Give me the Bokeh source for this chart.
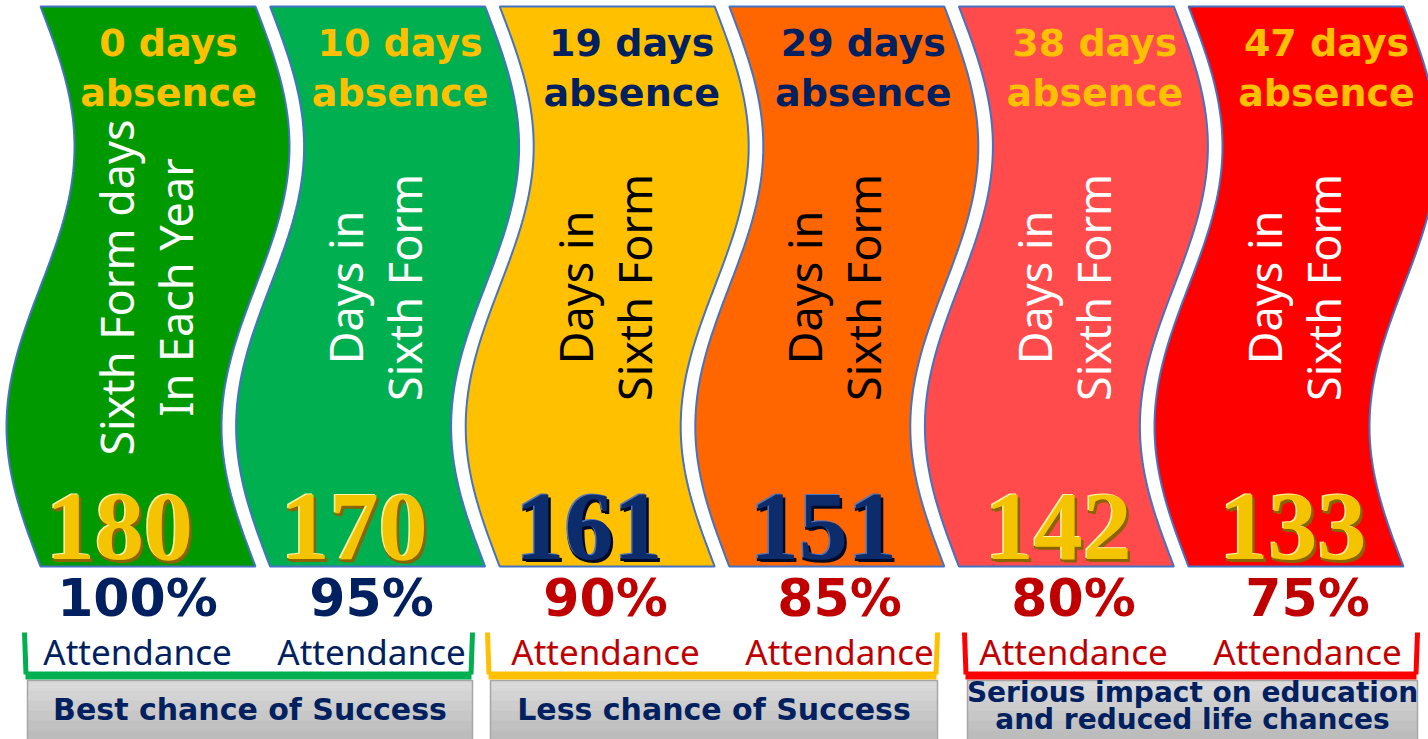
import numpy as np
from bokeh.plotting import figure
from bokeh.models import ColumnDataSource, Range1d
from bokeh.core.properties import value
from bokeh.embed import file_html
from bokeh.resources import INLINE

# ---------------- data ----------------
absence_days = [0, 10, 19, 29, 38, 47]
days_in_sixth_form = [180, 170, 161, 151, 142, 133]
attendance_pct = [100, 95, 90, 85, 80, 75]
vertical_line1 = ["Sixth Form days", "Days in", "Days in", "Days in", "Days in", "Days in"]
vertical_line2 = ["In Each Year", "Sixth Form", "Sixth Form", "Sixth Form", "Sixth Form", "Sixth Form"]
group_labels = [["Best chance of Success"],
                ["Less chance of Success"],
                ["Serious impact on education", "and reduced life chances"]]

# ---------------- styles ----------------
banner_colors = ["#009900", "#00B050", "#FFC000", "#FF6600", "#FF4B4B", "#FF0000"]
header_colors = ["#FFC000", "#FFC000", "#002060", "#002060", "#FFC000", "#FFC000"]
vertical_colors = ["#FFFFFF", "#FFFFFF", "#000000", "#000000", "#FFFFFF", "#FFFFFF"]
number_kind = ["gold", "gold", "navy", "navy", "gold", "gold"]
pct_colors = ["#002060", "#002060", "#C00000", "#C00000", "#C00000", "#C00000"]
group_colors = ["#00B050", "#FFC000", "#FF0000"]
NAVY = "#002060"

number_palette = {
    "gold": {"shadow": "#8A6400", "light": "#FFF4A8", "main": "#F4C400"},
    "navy": {"shadow": "#000A26", "light": "#5577BB", "main": "#0D2C6C"},
}

# ---------------- layout (reference pixel space) ----------------
W, H = 1428, 739
TOP, BOT, AMP = 6.0, 566.0, 34.0
X0, PITCH, BW = 40.0, 229.6, 215.0
HDR_X0, HDR_PITCH = 168.0, 231.6
NUM_X0, NUM_PITCH = 119.0, 234.7
PCT_X0, PCT_PITCH = 137.0, 234.0
GROUP_L = [24, 487, 964]
GROUP_R = [472, 937, 1417]
SHIFT = 0.4  # baseline correction (fraction of font size)


def base(y, fs, k=SHIFT):
    return [float(v) - k * fs for v in y]


def fl(a):
    return [float(v) for v in a]


p = figure(width=W, height=H, x_range=Range1d(0, W), y_range=Range1d(H, 0),
           output_backend="svg", toolbar_location=None,
           x_axis_location=None, y_axis_location=None, min_border=0)
p.grid.visible = False
p.outline_line_color = None
p.background_fill_color = "white"
p.border_fill_color = "white"

n = len(absence_days)
idx = list(range(n))

# ---------------- wavy banners ----------------
ys = np.linspace(TOP, BOT, 120)
off = AMP * np.sin(2 * np.pi * (ys - TOP) / (BOT - TOP))
bxs, bys = [], []
for i in idx:
    left = X0 + i * PITCH + off
    right = left + BW
    bxs.append(fl(np.concatenate([left, right[::-1]])))
    bys.append(fl(np.concatenate([ys, ys[::-1]])))
p.patches(xs="xs", ys="ys", fill_color="color", line_color="#4472C4", line_width=2,
          source=ColumnDataSource(dict(xs=bxs, ys=bys, color=banner_colors)))

bc = [X0 + i * PITCH + BW / 2 for i in idx]  # banner centre column

# ---------------- headers ----------------
hdr_x = [HDR_X0 + i * HDR_PITCH for i in idx]
HF = 38
p.text(x=hdr_x, y=base([58] * n, HF), text=[f"{d} days" for d in absence_days],
       text_color=header_colors, text_font=value("DejaVu Sans"), text_font_style="bold",
       text_font_size=f"{HF}px", text_align="center", text_baseline="alphabetic")
p.text(x=hdr_x, y=base([108] * n, HF), text=["absence"] * n,
       text_color=header_colors, text_font=value("DejaVu Sans"), text_font_style="bold",
       text_font_size=f"{HF}px", text_align="center", text_baseline="alphabetic")

# ---------------- vertical texts ----------------
VF = 45
for dxl, txt in ((-13, vertical_line1), (46, vertical_line2)):
    p.text(x=base([c + dxl for c in bc], VF, 0.42), y=[287.0] * n, text=txt, angle=np.pi / 2,
           text_color=vertical_colors, text_font=value("Noto Sans"),
           text_font_size=f"{VF}px", text_align="center", text_baseline="alphabetic")

# ---------------- big numbers ----------------
NF = 98
num_x = [NUM_X0 + i * NUM_PITCH for i in idx]
for layer, dx, dy in (("shadow", 2.5, 2.5), ("shadow", -1.0, 1.5), ("light", -1.5, -1.5), ("main", 0.0, 0.0)):
    cols = [number_palette[k][layer] for k in number_kind]
    p.text(x=[c + dx for c in num_x], y=base([562 + dy] * n, NF, 0.36),
           text=[str(v) for v in days_in_sixth_form],
           text_color=cols, text_font=value("Liberation Serif"), text_font_style="bold",
           text_font_size=f"{NF}px", text_align="center", text_baseline="alphabetic")

# ---------------- percentages ----------------
pct_x = [PCT_X0 + i * PCT_PITCH for i in idx]
PF, AF = 52, 35
p.text(x=pct_x, y=base([618] * n, PF), text=[f"{v}%" for v in attendance_pct],
       text_color=pct_colors, text_font=value("DejaVu Sans"), text_font_style="bold",
       text_font_size=f"{PF}px", text_align="center", text_baseline="alphabetic")
p.text(x=pct_x, y=base([665] * n, AF), text=["Attendance"] * n,
       text_color=pct_colors, text_font=value("Noto Sans"),
       text_font_size=f"{AF}px", text_align="center", text_baseline="alphabetic")

# ---------------- grey boxes ----------------
grays = ["#D9D9D9", "#D3D3D3", "#CDCDCD", "#C7C7C7", "#C1C1C1", "#BCBCBC"]
band_h = 60.0 / len(grays)
for g in range(3):
    L, R = GROUP_L[g] + 3, GROUP_R[g]
    for k, col in enumerate(grays):
        p.quad(left=L, right=R, top=680 + k * band_h, bottom=680 + (k + 1) * band_h + 0.5,
               fill_color=col, line_color=None)
    p.quad(left=L, right=R, top=680, bottom=745, fill_color=None,
           line_color="#A6A6A6", line_width=1.5)

# ---------------- brackets ----------------
for g in range(3):
    L, R = GROUP_L[g], GROUP_R[g]
    p.line(x=[L, L + 1.5], y=[632, 674], line_color=group_colors[g], line_width=5)
    p.line(x=[R, R - 1.5], y=[632, 674], line_color=group_colors[g], line_width=5)
    p.line(x=[L + 1, R - 1], y=[675, 675], line_color=group_colors[g], line_width=8)

# ---------------- group labels ----------------
for g in range(3):
    cx = (GROUP_L[g] + 3 + GROUP_R[g]) / 2
    lines = group_labels[g]
    if len(lines) == 1:
        p.text(x=[cx], y=base([721], 30), text=lines, text_color=NAVY,
               text_font=value("DejaVu Sans"), text_font_style="bold",
               text_font_size="30px", text_align="center", text_baseline="alphabetic")
    else:
        p.text(x=[cx, cx], y=base([703, 730], 28), text=lines, text_color=NAVY,
               text_font=value("DejaVu Sans"), text_font_style="bold",
               text_font_size="28px", text_align="center", text_baseline="alphabetic")

open("out.html", "w").write(file_html(p, INLINE))
